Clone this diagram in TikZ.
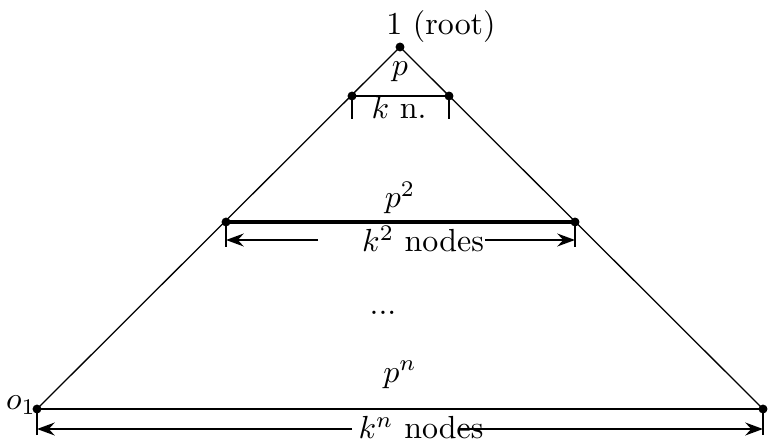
\documentclass[tikz,border=0pt]{standalone}
\usetikzlibrary{arrows.meta}
\tikzset{
  pt/.style={circle,fill,inner sep=0pt,minimum size=2.8pt},
  bar/.style={line width=0.85pt},
  dimarrow/.style={line width=0.75pt,-{Stealth[length=5.5pt,width=4pt]}}
}
\begin{document}
\begin{tikzpicture}[x=0.011cm,y=-0.011cm]
  \useasboundingbox (0,0) rectangle (768,444);
  % corners of the tree
  \node[pt] (root) at (400,47) {};
  \node[pt] (a1) at (352,96) {};
  \node[pt] (b1) at (449,96) {};
  \node[pt] (a2) at (226,222) {};
  \node[pt] (b2) at (575,222) {};
  \node[pt] (o1) at (37,409) {};
  \node[pt] (on) at (763,409) {};
  \draw[thin] (o1.center) -- (root.center) -- (on.center);
  % level 1
  \coordinate (a1t) at (352,119);
  \coordinate (b1t) at (449,119);
  \draw[bar] (a1t) -- (a1.center) -- (b1.center) -- (b1t);
  % level 2
  \coordinate (a2t) at (226,247);
  \coordinate (b2t) at (575,247);
  \draw[line width=1.2pt] (a2.center) -- (b2.center);
  \draw[bar] (a2.center) -- (a2t);
  \draw[bar] (b2.center) -- (b2t);
  \coordinate (a2l) at (318,240);
  \coordinate (a2e) at (226,240);
  \coordinate (b2l) at (485,240);
  \coordinate (b2e) at (575,240);
  \draw[dimarrow] (a2l) -- (a2e);
  \draw[dimarrow] (b2l) -- (b2e);
  % level n
  \coordinate (o1t) at (37,435);
  \coordinate (ont) at (763,435);
  \draw[bar] (o1t) -- (o1.center) -- (on.center) -- (ont);
  \coordinate (onl) at (352,429);
  \coordinate (one) at (37,429);
  \coordinate (onr) at (460,429);
  \coordinate (onf) at (763,429);
  \draw[dimarrow] (onl) -- (one);
  \draw[dimarrow] (onr) -- (onf);
  % labels
  \node (rootlbl) at (441,27) {$1$ (root)};
  \node (p1) at (400,72) {$p$};
  \node (k1) at (399,107) {$k$ n.};
  \node (p2) at (400,198) {$p^2$};
  \node (k2) at (423,239) {$k^2$ nodes};
  \node (dots) at (383,313) {...};
  \node (pn) at (400,375) {$p^n$};
  \node (kn) at (421,428) {$k^n$ nodes};
  \node (o1lbl) at (21,405) {$o_1$};
\end{tikzpicture}
\end{document}
